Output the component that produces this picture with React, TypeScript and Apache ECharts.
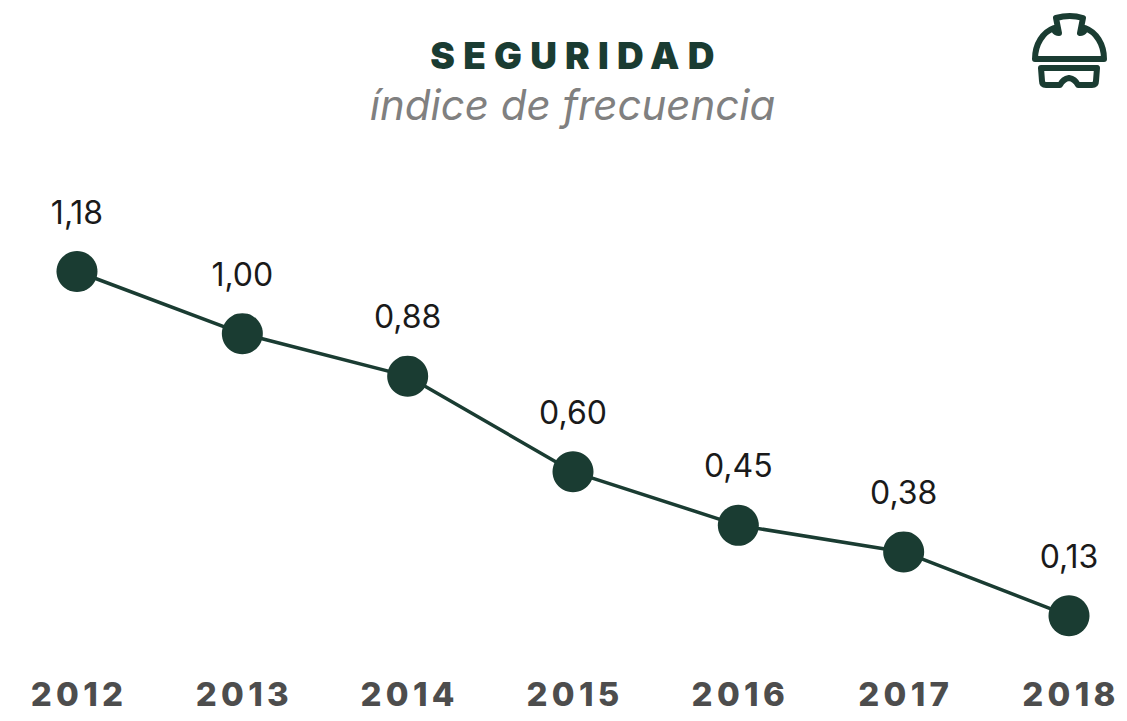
import { useEffect, useRef } from "react";
import * as echarts from "echarts";

const years = ["2012", "2013", "2014", "2015", "2016", "2017", "2018"];
const valueLabels = ["1,18", "1,00", "0,88", "0,60", "0,45", "0,38", "0,13"];
// heights as drawn in the picture (the drawn line is not strictly proportional to its labels)
const plotted = [1.18, 1.0, 0.877, 0.6, 0.445, 0.368, 0.183];

const titleText = "SEGURIDAD";
const subtitleText = "índice de frecuencia";
const GREEN = "#1a3c32";

const helmetPath =
  "M1035 59 C1035 44 1043 32 1054 28 M1054 30 Q1056 33 1059 33 L1056 18 Q1070 14 1083 18 L1080 33 Q1083 33 1085 30 " +
  "M1085 28 C1096 32 1104 44 1104 59 M1035 59 L1104 59 " +
  "M1041 68 L1042 81 Q1042 85 1046 85 L1060 85 Q1063 79 1069 78 Q1075 79 1078 85 L1092 85 Q1096 85 1096 81 L1097 68 Z";

echarts.graphic.registerShape("helmetIcon", (echarts.graphic as any).extendPath(helmetPath, {}));

export default function App() {
  const ref = useRef<HTMLDivElement>(null);
  useEffect(() => {
    const chart = echarts.init(ref.current!, undefined, { renderer: "svg" });
    chart.setOption({
      animation: false,
      backgroundColor: "#ffffff",
      title: [
        {
          text: titleText,
          left: 571.5,
          top: 32,
          textAlign: "center",
          textStyle: { fontFamily: "Inter", fontWeight: 900, fontSize: 37, color: GREEN },
        },
        {
          text: subtitleText,
          left: 567.5,
          top: 78,
          textAlign: "center",
          textStyle: { fontFamily: "Inter", fontStyle: "italic", fontWeight: 400, fontSize: 42, color: "#808080" },
        },
      ],
      grid: { left: 77, right: 58, top: 161, bottom: 42 },
      xAxis: {
        type: "category",
        data: years,
        boundaryGap: false,
        axisLine: { show: false },
        axisTick: { show: false },
        axisLabel: {
          margin: -2,
          interval: 0,
          hideOverlap: false,
          lineHeight: 33,
          fontFamily: "Inter",
          fontWeight: 800,
          fontSize: 33,
          color: "#4d4d4d",
        },
      },
      yAxis: { type: "value", min: 0, max: 1.5, show: false },
      series: [
        {
          type: "line",
          data: plotted,
          symbol: "circle",
          symbolSize: 41,
          showAllSymbol: true,
          itemStyle: { color: GREEN },
          lineStyle: { color: GREEN, width: 3.5 },
          label: {
            show: true,
            position: "top",
            distance: 23,
            fontFamily: "Inter",
            fontSize: 32,
            color: "#1a1a1a",
            formatter: (p: any) => valueLabels[p.dataIndex],
          },
        },
      ],
      graphic: [
        {
          type: "helmetIcon",
          x: 0,
          y: 0,
          style: { fill: "none", stroke: GREEN, lineWidth: 6, lineCap: "round", lineJoin: "round" },
        },
      ],
    });
    ref.current!.querySelectorAll("text").forEach((t) => {
      const s = t.textContent || "";
      if (s === titleText) t.style.letterSpacing = "8.2px";
      if (years.includes(s)) {
        t.style.letterSpacing = "4.3px";
        t.setAttribute("dx", "2");
      }
    });
    return () => chart.dispose();
  }, []);
  return <div ref={ref} style={{ position: "fixed", left: 0, top: 0, width: 1127, height: 721 }} />;
}
